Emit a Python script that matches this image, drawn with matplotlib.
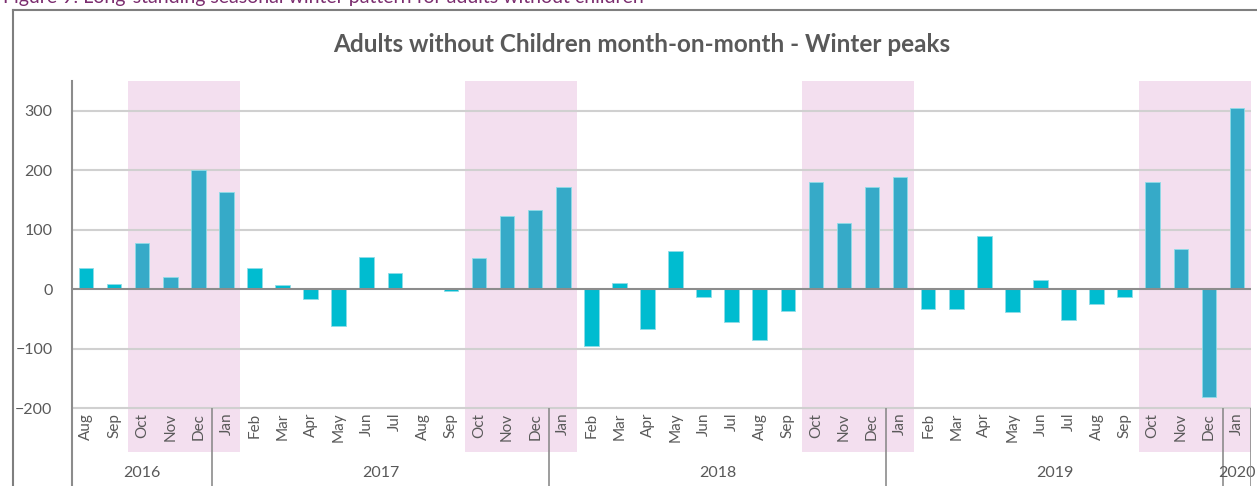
import numpy as np
import matplotlib.pyplot as plt
from matplotlib.lines import Line2D

plt.rcParams['font.family'] = ['Lato', 'DejaVu Sans']

# month-on-month change, Aug 2016 .. Jan 2020
months = ['Aug', 'Sep', 'Oct', 'Nov', 'Dec',
          'Jan', 'Feb', 'Mar', 'Apr', 'May', 'Jun', 'Jul', 'Aug', 'Sep', 'Oct', 'Nov', 'Dec',
          'Jan', 'Feb', 'Mar', 'Apr', 'May', 'Jun', 'Jul', 'Aug', 'Sep', 'Oct', 'Nov', 'Dec',
          'Jan', 'Feb', 'Mar', 'Apr', 'May', 'Jun', 'Jul', 'Aug', 'Sep', 'Oct', 'Nov', 'Dec',
          'Jan']
values = [36, 8, 77, 20, 200,
          163, 36, 7, -17, -62, 54, 27, 0, -3, 52, 123, 133,
          171, -96, 10, -67, 64, -13, -56, -85, -36, 181, 112, 171,
          189, -34, -33, 90, -39, 16, -52, -25, -14, 180, 68, -182,
          305]
years = ['2016', '2017', '2018', '2019', '2020']
year_counts = [5, 12, 12, 12, 1]
# winter periods (Oct - Jan), as first and last month index
winters = [(2, 5), (14, 17), (26, 29), (38, 41)]

cyan = '#00BCD0'
winter_blue = '#36AAC8'
pink = '#F3DFEF'
grey_txt = '#595959'
axis_grey = '#8C8C8C'

fig = plt.figure(figsize=(12.57, 4.86), dpi=100)
ax = fig.add_axes([72/1257, 0, (1251-72)/1257, (486-81)/486])

ylo, yhi = -331, 350
pink_bottom = -274
ax.set_ylim(ylo, yhi)
ax.set_xlim(-0.5, len(values) - 0.5)

x = np.arange(len(values))
in_winter = np.zeros(len(values), dtype=bool)
for a, b in winters:
    in_winter[a:b + 1] = True
    ax.axvspan(a - 0.5, b + 0.5, ymin=(pink_bottom - ylo) / (yhi - ylo), ymax=1,
               color=pink, lw=0, zorder=0)

for v in [-200, -100, 100, 200, 300]:
    ax.axhline(v, color='#D0D0D0', lw=1.5, zorder=1)

colors = [winter_blue if w else cyan for w in in_winter]
ax.bar(x, values, width=0.52, color=colors, edgecolor='#8FDCE8', linewidth=0.6, zorder=2)
ax.axhline(0, color=axis_grey, lw=1.5, zorder=3)

# month labels
for i, m in enumerate(months):
    ax.text(i, -208, m, rotation=90, ha='center', va='top', fontsize=11, color=grey_txt)

# year groups and separators
start = 0
for yr, n in zip(years, year_counts):
    ax.text(start + (n - 1) / 2, -309, yr, ha='center', va='center', fontsize=11.5, color=grey_txt)
    start += n
    ax.vlines(start - 0.5, ylo, -200, color=axis_grey, lw=1.2, zorder=3)

ax.set_yticks([-200, -100, 0, 100, 200, 300])
ax.tick_params(axis='y', length=0, pad=14, labelsize=11.5, labelcolor=grey_txt)
ax.tick_params(axis='x', bottom=False, labelbottom=False)
for s in ['top', 'right', 'bottom']:
    ax.spines[s].set_visible(False)
ax.spines['left'].set_color(axis_grey)
ax.spines['left'].set_linewidth(1.5)

fig.text(642/1257, 1 - 44/486, 'Adults without Children month-on-month - Winter peaks',
         fontsize=17.5, fontweight='bold', color=grey_txt, ha='center', va='center')

# outer frame and cut-off figure caption
fig.add_artist(Line2D([13/1257, 13/1257], [0, 1 - 10/486], color='#7F7F7F', lw=1.5))
fig.add_artist(Line2D([13/1257, 1], [1 - 10/486, 1 - 10/486], color='#7F7F7F', lw=1.5))
fig.text(0.002, 1 - 3/486, 'Figure 9: Long-standing seasonal winter pattern for adults without children',
         fontsize=14, color='#7B2D6F', va='baseline')

fig.savefig('out.png', dpi=100)
